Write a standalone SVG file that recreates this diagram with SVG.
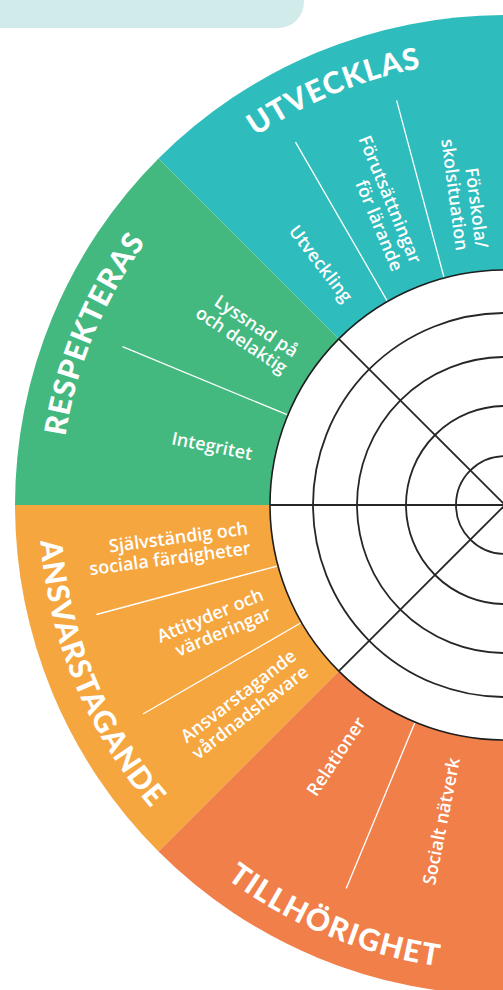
<svg xmlns="http://www.w3.org/2000/svg" width="503" height="990" viewBox="0 0 503 990">
<style>
.title{font-family:"Lato","Open Sans",sans-serif;font-weight:900;font-size:30px;fill:#fff;}
.lbl{font-family:"Open Sans","DejaVu Sans",sans-serif;font-weight:600;font-size:18px;fill:#fff;text-anchor:end;}
.div{stroke:#fff;stroke-width:1.3;fill:none;}
.grid{stroke:#262626;stroke-width:1.8;fill:none;}
</style>
<defs>
<path id="arcU" d="M190.34,190.34 A445,445 0 0 1 505,60"/>
<path id="arcR" d="M60,505 A445,445 0 0 1 190.34,190.34"/>
<path id="arcA" d="M39,505 A466,466 0 0 0 175.5,834.5"/>
<path id="arcT" d="M175.5,834.5 A466,466 0 0 0 505,971"/>
</defs>
<rect id="topbar" x="-30" y="-30" width="334" height="58" rx="26" fill="#D1EBEA"/>

<g id="utvecklas">
<path d="M505,505 L505,15 A490,490 0 0 0 158.5,158.5 Z" fill="#2EBDBC"/>
<text class="title"><textPath href="#arcU" startOffset="50%" text-anchor="middle" textLength="180" lengthAdjust="spacing">UTVECKLAS</textPath></text>
<line class="div" x1="387" y1="300.6" x2="295.5" y2="142.1"/>
<line class="div" x1="443.9" y1="277" x2="396.6" y2="100.3"/>
<text class="lbl" transform="translate(347.9,300.3) rotate(52.5)" y="5.5">Utveckling</text>
<text class="lbl" transform="translate(406.3,266.6) rotate(67.5)"><tspan x="0" y="-4.5">Förutsättningar</tspan><tspan x="0" y="15.5">för lärande</tspan></text>
<text class="lbl" transform="translate(471.3,249.2) rotate(82.5)"><tspan x="0" y="-4.5">Förskola/</tspan><tspan x="0" y="15.5">skolsituation</tspan></text>
</g>

<g id="respekteras">
<path d="M505,505 L158.5,158.5 A490,490 0 0 0 15,505 Z" fill="#43B97F"/>
<text class="title"><textPath href="#arcR" startOffset="50%" text-anchor="middle" textLength="212" lengthAdjust="spacing">RESPEKTERAS</textPath></text>
<line class="div" x1="287" y1="414.7" x2="122.5" y2="346.6"/>
<text class="lbl" transform="translate(290.5,361.7) rotate(33.75)"><tspan x="0" y="-4.5">Lyssnad på</tspan><tspan x="0" y="15.5">och delaktig</tspan></text>
<text class="lbl" transform="translate(252,454.7) rotate(11.25)" y="5.5">Integritet</text>
</g>

<g id="ansvarstagande">
<path d="M505,505 L15,505 A490,490 0 0 0 158.5,851.5 Z" fill="#F5A63F"/>
<text class="title"><textPath href="#arcA" startOffset="50%" text-anchor="middle" textLength="294" lengthAdjust="spacing">ANSVARSTAGANDE</textPath></text>
<line class="div" x1="277" y1="566.1" x2="96.4" y2="614.5"/>
<line class="div" x1="300.6" y1="623" x2="143" y2="714"/>
<text class="lbl" transform="translate(249.2,538.7) rotate(-7.5)"><tspan x="0" y="-4.5">Självständig och</tspan><tspan x="0" y="15.5">sociala färdigheter</tspan></text>
<text class="lbl" transform="translate(266.6,603.7) rotate(-22.5)"><tspan x="0" y="-4.5">Attityder och</tspan><tspan x="0" y="15.5">värderingar</tspan></text>
<text class="lbl" transform="translate(300.3,662.1) rotate(-37.5)"><tspan x="0" y="-4.5">Ansvarstagande</tspan><tspan x="0" y="15.5">vårdnadshavare</tspan></text>
</g>

<g id="tillhorighet">
<path d="M505,505 L158.5,851.5 A490,490 0 0 0 505,995 Z" fill="#F17F4A"/>
<text class="title"><textPath href="#arcT" startOffset="50%" text-anchor="middle" textLength="231" lengthAdjust="spacing">TILLHÖRIGHET</textPath></text>
<line class="div" x1="414.7" y1="723" x2="346.2" y2="888.4"/>
<text class="lbl" transform="translate(361.7,719.5) rotate(-56.25)" y="5.5">Relationer</text>
<text class="lbl" transform="translate(454.7,758) rotate(-78.75)" y="5.5">Socialt nätverk</text>
</g>

<g id="scale">
<circle cx="505" cy="505" r="235" fill="#fff" stroke="#1e1e1e" stroke-width="1.6"/>
<circle class="grid" cx="505" cy="505" r="192"/>
<circle class="grid" cx="505" cy="505" r="148"/>
<circle class="grid" cx="505" cy="505" r="99"/>
<circle class="grid" cx="505" cy="505" r="49"/>
<line class="grid" x1="505" y1="505" x2="338.8" y2="338.8"/>
<line class="grid" x1="505" y1="505" x2="270" y2="505"/>
<line class="grid" x1="505" y1="505" x2="338.8" y2="671.2"/>
</g>
</svg>
